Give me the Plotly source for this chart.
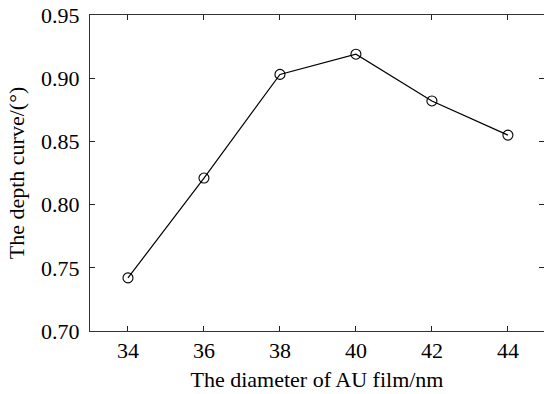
import plotly.graph_objects as go

diameter_nm = [34, 36, 38, 40, 42, 44]
depth_curve = [0.742, 0.821, 0.903, 0.919, 0.882, 0.855]
x_ticks = [34, 36, 38, 40, 42, 44]
y_ticks = [0.70, 0.75, 0.80, 0.85, 0.90, 0.95]

font_family = "Liberation Serif, Times New Roman, serif"

fig = go.Figure()
fig.add_trace(go.Scatter(
    x=diameter_nm, y=depth_curve,
    mode="lines+markers",
    line=dict(color="black", width=1.2),
    marker=dict(symbol="circle-open", size=10, color="black", line=dict(width=1.1)),
    showlegend=False,
))

axis_common = dict(
    showgrid=False, zeroline=False,
    showline=True, linecolor="#333", linewidth=1,
    ticks="inside", ticklen=5, tickcolor="#222", tickwidth=1,
    mirror="ticks", automargin=False,
    tickfont=dict(family=font_family, size=22, color="black"),
)

fig.update_layout(
    width=544, height=394,
    margin=dict(l=90, r=0, t=15, b=63),
    paper_bgcolor="white", plot_bgcolor="white",
    font=dict(family=font_family, color="black"),
    xaxis=dict(
        range=[33, 44.95], tickvals=x_ticks,
        title=dict(text="The diameter of AU film/nm", font=dict(family=font_family, size=22), standoff=9),
        **axis_common,
    ),
    yaxis=dict(
        range=[0.70, 0.95], tickvals=y_ticks, tickformat=".2f",
        ticklabelstandoff=5,
        title=dict(text="The depth curve/(°)", font=dict(family=font_family, size=22), standoff=10),
        **axis_common,
    ),
)

fig.write_html(
    "out.html",
    config={"displayModeBar": False},
    post_script="document.body.style.margin='0';document.body.style.overflow='hidden';",
)
